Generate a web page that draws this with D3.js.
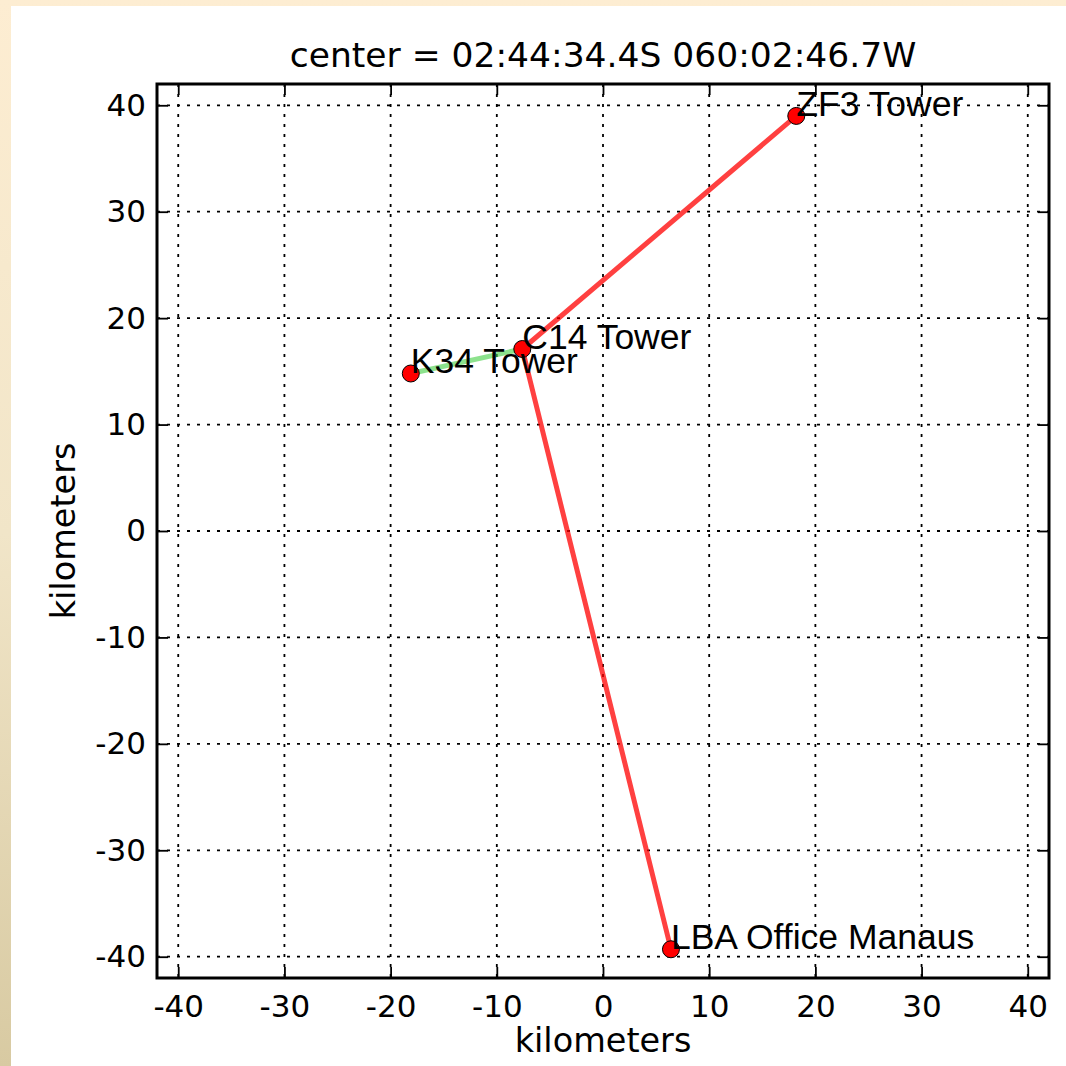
<!DOCTYPE html>
<html>
<head>
<meta charset="utf-8">
<script src="https://cdn.jsdelivr.net/npm/d3@7"></script>
<style>
  body { margin: 0; padding: 0; overflow: hidden; }
  svg { display: block; }
</style>
</head>
<body>
<div id="chart"></div>
<script>
// sites (km from the center)
var siteNames = ["ZF3 Tower", "C14 Tower", "K34 Tower", "LBA Office Manaus"];
var siteX = [18.2, -7.6, -18.1, 6.4];
var siteY = [39.0, 17.1, 14.8, -39.3];

// links between sites (index pairs) and their kind
var linkFrom = [0, 1, 2];
var linkTo = [1, 3, 1];
var linkKind = ["red", "red", "green"];

var tickValues = [-40, -30, -20, -10, 0, 10, 20, 30, 40];
var titleText = "center = 02:44:34.4S 060:02:46.7W";
var axisLabel = "kilometers";

var W = 1066, H = 1066;
var plotLeft = 157, plotRight = 1049, plotTop = 84, plotBottom = 978;

var svg = d3.select('#chart').append('svg').attr('width', W).attr('height', H);

// fond degrade + panneau blanc
var defs = svg.append('defs');
var grad = defs.append('linearGradient').attr('id', 'bg').attr('x1', 0).attr('y1', 0).attr('x2', 0).attr('y2', 1);
grad.append('stop').attr('offset', '0%').attr('stop-color', '#fdedd2');
grad.append('stop').attr('offset', '50%').attr('stop-color', '#f1e5c8');
grad.append('stop').attr('offset', '100%').attr('stop-color', '#d8caa2');
svg.append('rect').attr('width', W).attr('height', H).attr('fill', 'url(#bg)');
svg.append('rect').attr('x', 11).attr('y', 6).attr('width', W - 11).attr('height', H - 6).attr('fill', '#ffffff');

var x = d3.scaleLinear().domain([-42, 42]).range([plotLeft, plotRight]);
var y = d3.scaleLinear().domain([-42, 42]).range([plotBottom, plotTop]);

var tickFont = "'DejaVu Sans', sans-serif";
var fmt = function(d) { return String(d); };

// grille pointillee
var grid = svg.append('g');
grid.selectAll('.gx').data(tickValues).enter().append('line')
    .attr('x1', d => x(d)).attr('x2', d => x(d))
    .attr('y1', plotTop).attr('y2', plotBottom)
    .attr('stroke', '#000').attr('stroke-width', 1.8)
    .attr('stroke-dasharray', '3,7');
grid.selectAll('.gy').data(tickValues).enter().append('line')
    .attr('y1', d => y(d)).attr('y2', d => y(d))
    .attr('x1', plotLeft).attr('x2', plotRight)
    .attr('stroke', '#000').attr('stroke-width', 1.8)
    .attr('stroke-dasharray', '3,7');

// axes (ticks vers l'interieur, sur les 4 cotes)
var tl = 11;
svg.append('g').attr('transform', 'translate(0,' + plotBottom + ')')
    .call(d3.axisBottom(x).tickValues(tickValues).tickFormat(fmt).tickSize(-tl).tickPadding(tl + 6))
    .call(g => g.select('.domain').remove())
    .call(g => g.selectAll('text').attr('font-family', tickFont).attr('font-size', 31).attr('fill', '#000'));
svg.append('g').attr('transform', 'translate(0,' + plotTop + ')')
    .call(d3.axisTop(x).tickValues(tickValues).tickSize(-tl).tickFormat(''))
    .call(g => g.select('.domain').remove());
svg.append('g').attr('transform', 'translate(' + plotLeft + ',0)')
    .call(d3.axisLeft(y).tickValues(tickValues).tickFormat(fmt).tickSize(-tl).tickPadding(tl))
    .call(g => g.select('.domain').remove())
    .call(g => g.selectAll('text').attr('font-family', tickFont).attr('font-size', 31).attr('fill', '#000'));
svg.append('g').attr('transform', 'translate(' + plotRight + ',0)')
    .call(d3.axisRight(y).tickValues(tickValues).tickSize(-tl).tickFormat(''))
    .call(g => g.select('.domain').remove());
svg.selectAll('.tick line').attr('stroke', '#000').attr('stroke-width', 1.8);

// liens
var linkColor = { red: 'rgba(255,0,0,0.75)', green: 'rgba(80,210,80,0.65)' };
svg.append('g').selectAll('line.link').data(linkFrom).enter().append('line')
    .attr('x1', (d, i) => x(siteX[linkFrom[i]]))
    .attr('y1', (d, i) => y(siteY[linkFrom[i]]))
    .attr('x2', (d, i) => x(siteX[linkTo[i]]))
    .attr('y2', (d, i) => y(siteY[linkTo[i]]))
    .attr('stroke', (d, i) => linkColor[linkKind[i]])
    .attr('stroke-width', 5)
    .attr('stroke-linecap', 'round');

// sites
svg.append('g').selectAll('circle').data(siteNames).enter().append('circle')
    .attr('cx', (d, i) => x(siteX[i]))
    .attr('cy', (d, i) => y(siteY[i]))
    .attr('r', 8.5)
    .attr('fill', '#ff0000')
    .attr('stroke', '#000').attr('stroke-width', 1);

svg.append('g').selectAll('text').data(siteNames).enter().append('text')
    .attr('x', (d, i) => x(siteX[i]))
    .attr('y', (d, i) => y(siteY[i]))
    .attr('font-family', "'Liberation Sans', Arial, sans-serif")
    .attr('font-size', 35.5)
    .attr('fill', '#000')
    .text(d => d);

// cadre
svg.append('rect').attr('x', plotLeft).attr('y', plotTop)
    .attr('width', plotRight - plotLeft).attr('height', plotBottom - plotTop)
    .attr('fill', 'none').attr('stroke', '#000').attr('stroke-width', 3);

// titre et labels
svg.append('text').attr('x', (plotLeft + plotRight) / 2).attr('y', 67)
    .attr('text-anchor', 'middle').attr('font-family', tickFont).attr('font-size', 34.5)
    .text(titleText);
svg.append('text').attr('x', (plotLeft + plotRight) / 2).attr('y', 1052)
    .attr('text-anchor', 'middle').attr('font-family', tickFont).attr('font-size', 33.5)
    .text(axisLabel);
svg.append('text')
    .attr('transform', 'translate(75,' + (plotTop + plotBottom) / 2 + ') rotate(-90)')
    .attr('text-anchor', 'middle').attr('font-family', tickFont).attr('font-size', 33.5)
    .text(axisLabel);
</script>
</body>
</html>
